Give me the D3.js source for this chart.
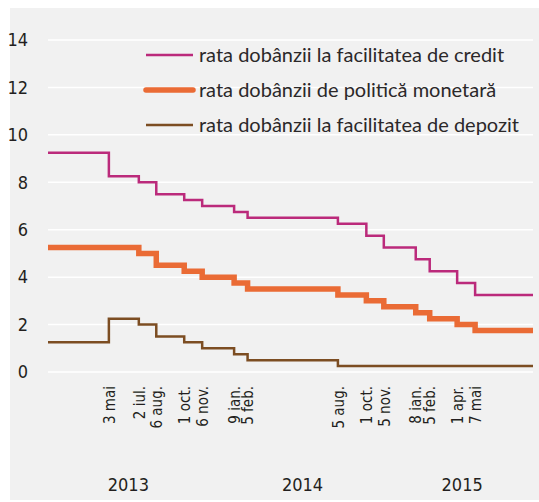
<!DOCTYPE html>
<meta charset="utf-8">
<style>
  body { margin: 0; background: #fff; }
  .tick-lbl { font-family: "Liberation Sans Narrow", "DejaVu Sans Condensed", "Roboto", sans-serif; fill: #231f20; }
  .legend text { font-family: "Lato", "Open Sans", sans-serif; font-size: 20px; fill: #2b2829; }
</style>
<svg width="539" height="502"></svg>
<script src="https://d3js.org/d3.v7.min.js"></script>
<script>
  // step dates (rate changes) and the three corridor rates
  var changeDates = ["2013-01-01", "2013-05-03", "2013-07-02", "2013-08-06", "2013-10-01", "2013-11-06",
    "2014-01-09", "2014-02-05", "2014-08-05", "2014-10-01", "2014-11-05",
    "2015-01-08", "2015-02-05", "2015-04-01", "2015-05-07", "2015-08-31"];
  var creditRate = [9.25, 8.25, 8.0, 7.5, 7.25, 7.0, 6.75, 6.5, 6.25, 5.75, 5.25, 4.75, 4.25, 3.75, 3.25, 3.25];
  var policyRate = [5.25, 5.25, 5.0, 4.5, 4.25, 4.0, 3.75, 3.5, 3.25, 3.0, 2.75, 2.5, 2.25, 2.0, 1.75, 1.75];
  var depositRate = [1.25, 2.25, 2.0, 1.5, 1.25, 1.0, 0.75, 0.5, 0.25, 0.25, 0.25, 0.25, 0.25, 0.25, 0.25, 0.25];

  var labelDates = ["2013-05-03", "2013-07-02", "2013-08-06", "2013-10-01", "2013-11-06", "2014-01-09", "2014-02-05",
    "2014-08-05", "2014-10-01", "2014-11-05", "2015-01-08", "2015-02-05", "2015-04-01", "2015-05-07"];
  var labelTexts = ["3 mai", "2 iul.", "6 aug.", "1 oct.", "6 nov.", "9 ian.", "5 feb.",
    "5 aug.", "1 oct.", "5 nov.", "8 ian.", "5 feb.", "1 apr.", "7 mai"];
  var yearDates = ["2013-06-10", "2014-05-25", "2015-04-10"];
  var yearTexts = ["2013", "2014", "2015"];
  var yTicks = [0, 2, 4, 6, 8, 10, 12, 14];

  var seriesNames = ["rata dobânzii la facilitatea de credit", "rata dobânzii de politică monetară", "rata dobânzii la facilitatea de depozit"];
  var seriesColors = ["#bb2a7b", "#ea6b35", "#7c4d22"];
  var seriesWidths = [2.5, 5.5, 2.5];

  var parse = d3.timeParse("%Y-%m-%d");
  var svg = d3.select("svg");

  svg.append("rect")
    .attr("x", 10).attr("y", 8)
    .attr("width", 529).attr("height", 492)
    .attr("fill", "#f1f1f1");

  var x = d3.scaleTime()
    .domain([parse("2013-01-01"), parse("2015-08-31")])
    .range([48, 533]);
  var y = d3.scaleLinear().domain([0, 14]).range([372, 40]);

  // grid
  svg.append("g").selectAll("line")
    .data(yTicks)
    .enter().append("line")
    .attr("x1", 48).attr("x2", 533)
    .attr("y1", function(d) { return y(d); })
    .attr("y2", function(d) { return y(d); })
    .attr("stroke", "#fff")
    .attr("stroke-width", 1.5);

  // y axis
  var yAxis = svg.append("g")
    .attr("transform", "translate(30,0)")
    .call(d3.axisLeft(y).tickValues(yTicks).tickSize(0).tickPadding(2));
  yAxis.select(".domain").remove();
  yAxis.selectAll("text").attr("class", "tick-lbl").style("font-size", "18px");

  // date labels
  var xAxis = svg.append("g")
    .attr("transform", "translate(0,386)")
    .call(d3.axisBottom(x)
      .tickValues(labelDates.map(parse))
      .tickFormat(function(d, i) { return labelTexts[i]; })
      .tickSize(0));
  xAxis.select(".domain").remove();
  xAxis.selectAll("text")
    .attr("class", "tick-lbl")
    .style("font-size", "15px")
    .attr("text-anchor", "end")
    .attr("transform", "rotate(-90)")
    .attr("x", 0).attr("y", 0)
    .attr("dy", "0.35em");

  // year labels
  var yearAxis = svg.append("g")
    .attr("transform", "translate(0,475)")
    .call(d3.axisBottom(x)
      .tickValues(yearDates.map(parse))
      .tickFormat(function(d, i) { return yearTexts[i]; })
      .tickSize(0));
  yearAxis.select(".domain").remove();
  yearAxis.selectAll("text").attr("class", "tick-lbl").style("font-size", "18px");

  var line = d3.line()
    .curve(d3.curveStepAfter)
    .x(function(d) { return x(d.date); })
    .y(function(d) { return y(d.v); });

  [creditRate, policyRate, depositRate].forEach(function(vals, k) {
    var pts = changeDates.map(function(d, i) { return { date: parse(d), v: vals[i] }; });
    svg.append("path")
      .datum(pts)
      .attr("fill", "none")
      .attr("stroke", seriesColors[k])
      .attr("stroke-width", seriesWidths[k])
      .attr("d", line);
  });

  // legend
  var legend = svg.append("g").attr("class", "legend");
  seriesNames.forEach(function(name, k) {
    var ly = 55 + k * 35;
    legend.append("line")
      .attr("x1", 146).attr("x2", 193)
      .attr("y1", ly).attr("y2", ly)
      .attr("stroke", seriesColors[k])
      .attr("stroke-width", seriesWidths[k])
      .attr("stroke-linecap", k == 1 ? "round" : "butt");
    legend.append("text")
      .attr("x", 199).attr("y", ly)
      .attr("dy", "0.35em")
      .text(name);
  });
</script>
